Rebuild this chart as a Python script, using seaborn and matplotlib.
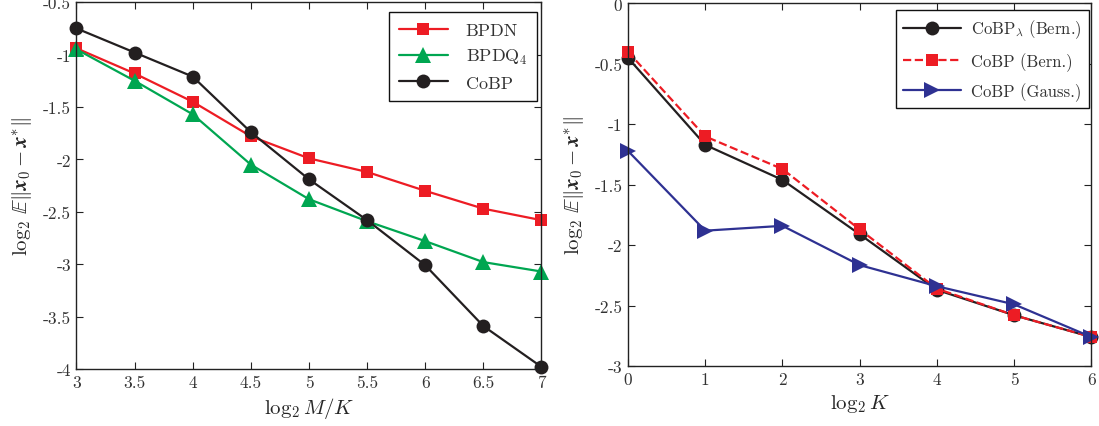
import matplotlib
matplotlib.use("Agg")
import matplotlib.pyplot as plt
import seaborn as sns
import pandas as pd

# ---- data ----
m_over_k = [3, 3.5, 4, 4.5, 5, 5.5, 6, 6.5, 7]
bpdn = [-0.94, -1.18, -1.45, -1.78, -1.99, -2.12, -2.30, -2.47, -2.58]
bpdq4 = [-0.95, -1.25, -1.57, -2.05, -2.38, -2.59, -2.78, -2.98, -3.07]
cobp = [-0.75, -0.98, -1.21, -1.74, -2.19, -2.58, -3.01, -3.59, -3.98]

log_k = [0, 1, 2, 3, 4, 5, 6]
cobp_lam_bern = [-0.45, -1.17, -1.46, -1.91, -2.37, -2.58, -2.76]
cobp_bern = [-0.40, -1.10, -1.37, -1.87, -2.36, -2.58, -2.76]
cobp_gauss = [-1.22, -1.88, -1.84, -2.165, -2.34, -2.49, -2.76]

left_xticks = [3, 3.5, 4, 4.5, 5, 5.5, 6, 6.5, 7]
left_xticklabels = ["3", "3.5", "4", "4.5", "5", "5.5", "6", "6.5", "7"]
left_yticks = [-4, -3.5, -3, -2.5, -2, -1.5, -1, -0.5]
left_yticklabels = ["-4", "-3.5", "-3", "-2.5", "-2", "-1.5", "-1", "-0.5"]
right_xticks = [0, 1, 2, 3, 4, 5, 6]
right_xticklabels = ["0", "1", "2", "3", "4", "5", "6"]
right_yticks = [-3, -2.5, -2, -1.5, -1, -0.5, 0]
right_yticklabels = ["-3", "-2.5", "-2", "-1.5", "-1", "-0.5", "0"]

RED = "#ED1C24"
GREEN = "#00A651"
BLACK = "#231F20"
BLUE = "#2E3192"

sns.set_style("ticks")
plt.rcParams["font.family"] = ["cmr10", "DejaVu Serif"]
plt.rcParams["mathtext.fontset"] = "cm"
plt.rcParams["axes.unicode_minus"] = False
plt.rcParams["xtick.direction"] = "in"
plt.rcParams["ytick.direction"] = "in"

fig = plt.figure(figsize=(10.99, 4.27), dpi=100)
ax1 = fig.add_axes([0.0696, 0.1335, 0.4231, 0.859])
ax2 = fig.add_axes([0.5714, 0.1405, 0.4217, 0.8490])

df1 = pd.DataFrame({"x": m_over_k, "BPDN": bpdn, "BPDQ": bpdq4, "CoBP": cobp})
lw = 1.6
sns.lineplot(data=df1, x="x", y="BPDN", ax=ax1, color=RED, marker="s", markersize=9,
             markeredgewidth=0, linewidth=lw, label="BPDN", clip_on=False)
sns.lineplot(data=df1, x="x", y="BPDQ", ax=ax1, color=GREEN, marker="^", markersize=11,
             markeredgewidth=0, linewidth=lw, label=r"BPDQ$_4$", clip_on=False)
sns.lineplot(data=df1, x="x", y="CoBP", ax=ax1, color=BLACK, marker="o", markersize=10,
             markeredgewidth=0, linewidth=lw, label="CoBP", clip_on=False)

df2 = pd.DataFrame({"x": log_k, "lam": cobp_lam_bern, "bern": cobp_bern, "gauss": cobp_gauss})
sns.lineplot(data=df2, x="x", y="lam", ax=ax2, color=BLACK, marker="o", markersize=10,
             markeredgewidth=0, linewidth=lw, label=r"CoBP$_\lambda$ (Bern.)", clip_on=False)
sns.lineplot(data=df2, x="x", y="bern", ax=ax2, color=RED, marker="s", markersize=9,
             markeredgewidth=0, linewidth=lw, linestyle="--", dashes=(3, 2.5),
             label="CoBP (Bern.)", clip_on=False)
sns.lineplot(data=df2, x="x", y="gauss", ax=ax2, color=BLUE, marker=">", markersize=11,
             markeredgewidth=0, linewidth=lw, label="CoBP (Gauss.)", clip_on=False)

ylab = r"$\log_2\,\mathbb{E}\|\boldsymbol{x}_0-\boldsymbol{x}^{*}\|$"
configs = [
    (ax1, left_xticks, left_xticklabels, left_yticks, left_yticklabels, r"$\log_2 M/K$",
     (0.9907, 0.972), 13.0, 0.5, 0.55, 1.0, 2.7),
    (ax2, right_xticks, right_xticklabels, right_yticks, right_yticklabels, r"$\log_2 K$",
     (0.994, 0.982), 12.0, 0.7, 0.45, 0.55, 3.5),
]
for ax, xt, xtl, yt, ytl, xl, anchor, fs, lspace, bpad, htp, hl in configs:
    ax.set_xlim(xt[0], xt[-1])
    ax.set_ylim(yt[0], yt[-1])
    ax.set_xticks(xt)
    ax.set_xticklabels(xtl, fontsize=12.5, color="#333333")
    ax.set_yticks(yt)
    ax.set_yticklabels(ytl, fontsize=12.5, color="#333333")
    ax.tick_params(top=True, right=True, length=5, width=0.8, color="#222222", pad=4)
    for s in ax.spines.values():
        s.set_visible(True)
        s.set_linewidth(1.0)
        s.set_color("#222222")
    ax.set_xlabel(xl, fontsize=15, labelpad=4)
    ax.set_ylabel(ylab, fontsize=15, labelpad=6)
    leg = ax.legend(loc="upper right", bbox_to_anchor=anchor, fontsize=fs, frameon=True,
                    fancybox=False, edgecolor="#111111", framealpha=1, handlelength=hl,
                    handletextpad=htp, borderpad=bpad, labelspacing=lspace,
                    borderaxespad=0.0)
    leg.get_frame().set_linewidth(1.0)
    for t in leg.get_texts():
        t.set_color("#333333")

fig.savefig("out.png", dpi=100)
